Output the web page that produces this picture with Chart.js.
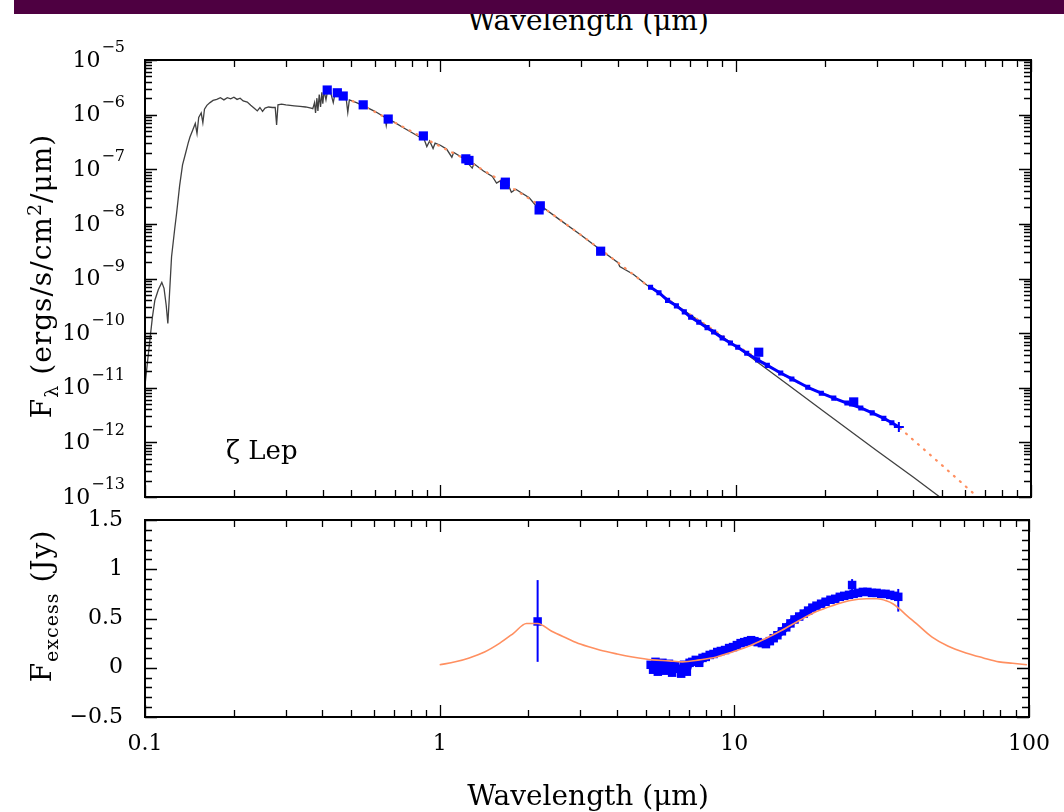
<!DOCTYPE html>
<html><head><meta charset="utf-8">
<script src="https://cdn.jsdelivr.net/npm/chart.js@4.4.0/dist/chart.umd.min.js"></script>
<style>
html,body{margin:0;padding:0;background:#fff;}
#wrap{position:relative;width:1064px;height:812px;overflow:hidden;background:#fff;font-family:"DejaVu Serif",serif;color:#000;}
canvas{position:absolute;left:0;}
#cTop{top:0;}
#cBot{top:484px;}
#band{position:absolute;left:14px;top:0;width:1050px;height:14px;background:#4e0041;z-index:5;}
.t{position:absolute;white-space:nowrap;font-family:"DejaVu Serif",serif;font-size:28px;line-height:28px;color:#000;}
.t sub{font-size:0.68em;vertical-align:-0.35em;line-height:0;}
.t sup{font-size:0.68em;vertical-align:0.55em;line-height:0;}
#topTitle{left:588px;top:7px;transform:translateX(-50%);}
#xTitle{left:588px;top:782px;transform:translateX(-50%);}
#yTop{left:42px;top:276px;transform:translate(-50%,-50%) rotate(-90deg);letter-spacing:1px;}
#yBot{left:42px;top:606px;transform:translate(-50%,-50%) rotate(-90deg);letter-spacing:1px;}
</style>
</head>
<body>
<div id="wrap">
  <div id="band"></div>
  <div class="t" id="topTitle">Wavelength (μm)</div>
  <canvas id="cTop" width="1064" height="510"></canvas>
  <canvas id="cBot" width="1064" height="328"></canvas>
  <div class="t" id="yTop">F<sub>λ</sub> (ergs/s/cm<sup>2</sup>/μm)</div>
  <div class="t" id="yBot">F<sub>excess</sub> (Jy)</div>
  <div class="t" id="xTitle">Wavelength (μm)</div>
</div>
<script>
// ---------------- DATA ----------------
// Photospheric model spectrum (top panel, grey/black line)
const modelWl = [0.100,0.102,0.104,0.106,0.108,0.111,0.114,0.116,0.118,0.1195,0.121,0.123,0.126,0.128,0.131,0.134,0.137,0.140,0.142,0.145,0.148,0.150,0.152,0.155,0.157,0.159,0.162,0.166,0.170,0.175,0.180,0.185,0.190,0.195,0.200,0.205,0.210,0.215,0.222,0.228,0.235,0.240,0.245,0.250,0.255,0.262,0.270,0.276,0.279,0.282,0.290,0.300,0.310,0.320,0.335,0.350,0.365,0.370,0.375,0.378,0.382,0.385,0.389,0.393,0.397,0.400,0.404,0.410,0.415,0.425,0.434,0.440,0.450,0.470,0.480,0.486,0.492,0.520,0.550,0.600,0.650,0.656,0.662,0.700,0.750,0.800,0.850,0.880,0.900,0.920,0.945,0.960,1.000,1.050,1.094,1.110,1.200,1.282,1.300,1.400,1.500,1.550,1.600,1.700,1.740,1.800,2.000,2.166,2.200,2.500,3.000,3.500,4.000,4.050,4.500,5.000,6.000,7.000,8.000,10.00,15.00,20.00,30.00,40.00,50.00,70.00,100.0];
const modelFlux = [1.12e-11,3.0e-11,7.9e-11,2.0e-10,4.0e-10,6.3e-10,8.5e-10,6.6e-10,3.2e-10,1.5e-10,5.0e-10,2.5e-9,7.9e-9,1.6e-8,5.0e-8,1.2e-7,1.9e-7,3.0e-7,3.9e-7,5.2e-7,6.9e-7,4.5e-7,8.9e-7,1.07e-6,7.1e-7,1.26e-6,1.48e-6,1.66e-6,1.82e-6,1.9e-6,2.04e-6,1.86e-6,2.04e-6,1.95e-6,2.09e-6,1.9e-6,2.0e-6,1.78e-6,1.7e-6,1.48e-6,1.29e-6,1.17e-6,1.35e-6,1.15e-6,1.32e-6,1.38e-6,1.35e-6,1.35e-6,6.5e-7,1.51e-6,1.55e-6,1.51e-6,1.48e-6,1.45e-6,1.41e-6,1.38e-6,1.32e-6,1.29e-6,1.66e-6,1.07e-6,2.0e-6,1.17e-6,2.34e-6,1.38e-6,2.57e-6,1.58e-6,2.75e-6,1.86e-6,2.69e-6,2.57e-6,1.66e-6,2.45e-6,2.34e-6,2.09e-6,1.95e-6,1.1e-6,1.86e-6,1.66e-6,1.45e-6,1.15e-6,8.9e-7,6.3e-7,8.5e-7,7.2e-7,5.75e-7,4.7e-7,3.9e-7,3.6e-7,2.6e-7,3.3e-7,2.4e-7,3.0e-7,2.75e-7,2.34e-7,1.66e-7,2.04e-7,1.58e-7,1.05e-7,1.26e-7,9.3e-8,7.4e-8,5.6e-8,6.2e-8,5.1e-8,3.8e-8,4.3e-8,3.0e-8,1.8e-8,2.1e-8,1.26e-8,6.2e-9,3.3e-9,1.95e-9,1.66e-9,1.2e-9,7.6e-10,3.9e-10,2.2e-10,1.35e-10,5.8e-11,1.15e-11,3.6e-12,7.1e-13,2.3e-13,9.3e-14,2.4e-14,5.8e-15];

// Photosphere + dust fit (top panel, orange dotted)
const fitWl = [0.45,0.55,0.7,0.9,1.2,1.6,2.2,3,4,5,6,7,8,9,10,11,12,14,17.5,21.5,26.5,31.8,35.7,40,50,65,80,100];
const fitFlux = [2.3e-6,1.45e-6,7.2e-7,3.5e-7,1.58e-7,6.2e-8,2.1e-8,6.2e-9,1.95e-9,7.6e-10,3.9e-10,2.2e-10,1.37e-10,9.0e-11,6.0e-11,4.4e-11,3.3e-11,1.9e-11,1.02e-11,6.5e-12,4.3e-12,2.75e-12,1.9e-12,1.1e-12,3.8e-13,1.07e-13,4.0e-14,1.4e-14];

// Spitzer IRS spectrum (top panel, blue line)
const irsWl = [5.15,5.5,5.88,6.3,6.7,7.04,7.5,8.0,8.42,9.0,9.6,10.16,10.9,11.87,12.8,14.21,15.5,17.54,19.5,21.49,23.8,26.53,29,31.75,33.8,35.69];
const irsFlux = [6.92e-10,5.5e-10,3.98e-10,3.16e-10,2.45e-10,1.95e-10,1.58e-10,1.26e-10,1.05e-10,8.13e-11,6.61e-11,5.5e-11,4.27e-11,3.24e-11,2.57e-11,1.86e-11,1.45e-11,1.02e-11,7.94e-12,6.46e-12,5.25e-12,4.27e-12,3.47e-12,2.75e-12,2.29e-12,1.91e-12];

// Broadband photometry (top panel, blue squares)
const photWl = [0.414,0.448,0.469,0.548,0.666,0.876,1.22,1.25,1.65,1.66,2.16,2.18,3.49,11.97,25.1];
const photFlux = [2.82e-6,2.51e-6,2.19e-6,1.51e-6,8.3e-7,4.07e-7,1.55e-7,1.45e-7,5.2e-8,5.8e-8,1.8e-8,2.14e-8,3.16e-9,4.47e-11,5.5e-12];

// Excess model (bottom panel, orange line)
const excessModelWl = [1.0,1.13,1.26,1.42,1.6,1.78,1.97,2.15,2.4,2.7,3.0,3.49,4.0,4.51,5.27,6.0,6.66,7.61,8.69,9.84,11.24,12.84,14.5,16.61,19,21.49,24.5,28.03,30.5,32.76,34.5,36.25,38.5,41.4,46.9,53,61.1,70,79.1,88,98.4];
const excessModelJy = [0.03,0.06,0.10,0.16,0.25,0.35,0.45,0.45,0.37,0.30,0.24,0.18,0.14,0.11,0.08,0.07,0.06,0.08,0.11,0.16,0.22,0.30,0.38,0.48,0.57,0.63,0.68,0.70,0.70,0.68,0.65,0.60,0.53,0.45,0.31,0.22,0.15,0.10,0.06,0.045,0.03];

// IRS excess spectrum (bottom panel, blue band)
const excessWl = [5.20,5.30,5.40,5.50,5.60,5.70,5.80,5.90,6.00,6.15,6.30,6.45,6.60,6.75,6.90,7.05,7.20,7.40,7.60,7.80,8.00,8.25,8.50,8.75,9.00,9.30,9.60,9.90,10.2,10.5,10.8,11.1,11.4,11.7,12.0,12.4,12.8,13.2,13.6,14.0,14.5,15.0,15.5,16.0,16.6,17.2,17.8,18.4,19.0,19.7,20.4,21.2,22.0,22.8,23.6,24.5,25.4,26.3,27.3,28.3,29.3,30.4,31.5,32.6,33.8,35.0,36.0];
const excessJy = [0.03,-0.02,0.06,-0.04,0.02,0.05,-0.03,0.00,0.04,-0.05,0.02,-0.01,-0.06,0.03,-0.04,0.05,0.06,0.08,0.05,0.10,0.11,0.13,0.14,0.16,0.17,0.18,0.20,0.21,0.23,0.25,0.26,0.27,0.28,0.27,0.26,0.25,0.24,0.27,0.30,0.33,0.37,0.41,0.45,0.49,0.52,0.55,0.58,0.61,0.63,0.65,0.67,0.69,0.70,0.72,0.73,0.74,0.75,0.76,0.77,0.77,0.76,0.76,0.75,0.75,0.74,0.73,0.72];

// Excess photometry with error bars (bottom panel)
const excessPhotWl = [2.15,25.1,11.97];
const excessPhotJy = [0.47,0.84,1.7];
const errWl = [2.15,25.1,11.97,36.0];
const errLo = [0.06,0.78,1.49,0.57];
const errHi = [0.89,0.90,1.9,0.80];

// Axis ticks
const xTickValues = [0.1,1,10,100];
const xTickLabels = ['0.1','1','10','100'];
const yTopExponents = [-13,-12,-11,-10,-9,-8,-7,-6,-5];
const yBotTicks = [-0.5,0,0.5,1,1.5];
const yBotLabels = ['\u22120.5','0','0.5','1','1.5'];
const starLabel = '\u03B6 Lep';
const starLabelPos = {x:0.188, y:6.6e-13};

// ---------------- HELPERS ----------------
const pts = (xs, ys) => xs.map((v,i)=>({x:v,y:ys[i]}));
const FONT = '"DejaVu Serif", serif';
const BLUE = '#0000ff';
const ORANGE = '#ff8f60';

function drawFrame(chart, yKind) {
  const {ctx, chartArea:a, scales:{x, y}} = chart;
  ctx.save();
  ctx.strokeStyle = '#000';
  ctx.lineWidth = 1.3;
  ctx.beginPath();
  for (const d of [0.1,1,10,100]) {
    for (let m=1; m<=9; m++) {
      const v = d*m;
      if (v > 100.0001) break;
      const px = Math.round(x.getPixelForValue(v)) + 0.5;
      const L = m===1 ? 12 : 7;
      ctx.moveTo(px, a.bottom); ctx.lineTo(px, a.bottom - L);
      ctx.moveTo(px, a.top); ctx.lineTo(px, a.top + L);
    }
  }
  const yt = [];
  if (yKind === 'log') {
    for (let e=-13; e<=-5; e++) for (let m=1; m<=9; m++) {
      if (e === -5 && m > 1) break;
      yt.push({v: m*Math.pow(10,e), major: m===1});
    }
  } else {
    for (let k=-5; k<=15; k++) yt.push({v: k/10, major: k%5===0});
  }
  for (const t of yt) {
    const py = Math.round(y.getPixelForValue(t.v)) + 0.5;
    const L = t.major ? 12 : 7;
    ctx.moveTo(a.left, py); ctx.lineTo(a.left + L, py);
    ctx.moveTo(a.right, py); ctx.lineTo(a.right - L, py);
  }
  ctx.stroke();
  ctx.lineWidth = 2;
  ctx.strokeRect(a.left, a.top, a.right - a.left, a.bottom - a.top);
  ctx.restore();
}

const topPlugin = {
  id: 'topDecor',
  afterDraw(chart) {
    drawFrame(chart, 'log');
    const {ctx, scales:{x, y}} = chart;
    ctx.save();
    ctx.fillStyle = '#000';
    const right = 125;
    for (const e of yTopExponents) {
      const py = y.getPixelForValue(Math.pow(10, e));
      const expStr = '\u2212' + Math.abs(e);
      ctx.font = '16px ' + FONT;
      const wE = ctx.measureText(expStr).width;
      ctx.textAlign = 'right';
      ctx.textBaseline = 'middle';
      ctx.fillText(expStr, right, py - 12);
      ctx.font = '22px ' + FONT;
      ctx.fillText('10', right - wE - 1, py + 1);
    }
    ctx.font = '26px ' + FONT;
    ctx.textAlign = 'left';
    ctx.textBaseline = 'middle';
    ctx.fillText(starLabel, x.getPixelForValue(starLabelPos.x), y.getPixelForValue(starLabelPos.y));
    ctx.restore();
  }
};
const botPlugin = { id:'botDecor', afterDraw(chart){ drawFrame(chart, 'lin'); } };

const common = {
  responsive:false, animation:false, events:[],
  plugins:{legend:{display:false}, tooltip:{enabled:false}},
  elements:{line:{tension:0}, point:{hoverRadius:0}}
};

// ---------------- TOP CHART ----------------
new Chart(document.getElementById('cTop'), {
  type:'scatter',
  data:{datasets:[
    {label:'Photometry', data:pts(photWl, photFlux), showLine:false, pointStyle:'rect',
     pointRadius:6.5, backgroundColor:BLUE, borderColor:BLUE, borderWidth:0},
    {label:'IRS', data:pts(irsWl, irsFlux), showLine:true, borderColor:BLUE, borderWidth:3,
     backgroundColor:BLUE, pointBorderColor:BLUE, borderJoinStyle:'round',
     pointStyle:c => c.dataIndex === irsWl.length-1 ? 'cross' : 'rect',
     pointRadius:c => c.dataIndex === irsWl.length-1 ? 5 : 2.2, pointBorderWidth:2},
    {label:'Photosphere + dust', data:pts(fitWl, fitFlux), showLine:true, borderColor:ORANGE,
     borderWidth:2.2, borderDash:[1,7], borderCapStyle:'round', pointRadius:0},
    {label:'Photosphere', data:pts(modelWl, modelFlux), showLine:true, borderColor:'#404040',
     borderWidth:1.3, pointRadius:0}
  ]},
  options:Object.assign({}, common, {
    layout:{padding:{top:60, right:33, bottom:13, left:0}},
    scales:{
      x:{type:'logarithmic', min:0.1, max:100, afterFit:s=>{s.height=0;},
         ticks:{display:false}, grid:{display:false, drawTicks:false}, border:{display:false}},
      y:{type:'logarithmic', min:1e-13, max:1e-5, afterFit:s=>{s.width=145;},
         ticks:{display:false}, grid:{display:false, drawTicks:false}, border:{display:false}}
    }
  }),
  plugins:[topPlugin]
});

// ---------------- BOTTOM CHART ----------------
const errSets = errWl.map((w,i)=>({
  label:'err'+i, data:[{x:w,y:errLo[i]},{x:w,y:errHi[i]}], showLine:true,
  borderColor:BLUE, borderWidth:2, pointRadius:0
}));
new Chart(document.getElementById('cBot'), {
  type:'scatter',
  data:{datasets:[
    {label:'Excess model', data:pts(excessModelWl, excessModelJy), showLine:true,
     borderColor:ORANGE, borderWidth:1.6, pointRadius:0, cubicInterpolationMode:'monotone'},
    ...errSets,
    {label:'Excess photometry', data:pts(excessPhotWl, excessPhotJy), showLine:false,
     pointStyle:'rect', pointRadius:6, backgroundColor:BLUE, borderWidth:0},
    {label:'IRS excess', data:pts(excessWl, excessJy), showLine:true, borderColor:BLUE,
     borderWidth:7, borderJoinStyle:'round', pointStyle:'rect', pointRadius:6,
     backgroundColor:BLUE, pointBorderWidth:0}
  ]},
  options:Object.assign({}, common, {
    layout:{padding:{top:36, right:33, bottom:0, left:0}},
    scales:{
      x:{type:'logarithmic', min:0.1, max:100, afterFit:s=>{s.height=95;},
         afterBuildTicks:s=>{s.ticks = xTickValues.map(v=>({value:v}));},
         ticks:{autoSkip:false, maxRotation:0, padding:14, color:'#000',
                font:{family:FONT, size:22}, callback:(v,i)=>xTickLabels[i]},
         grid:{display:false, drawTicks:false}, border:{display:false}},
      y:{type:'linear', min:-0.5, max:1.5, afterFit:s=>{s.width=145;},
         afterBuildTicks:s=>{s.ticks = yBotTicks.map(v=>({value:v}));},
         ticks:{autoSkip:false, padding:22, color:'#000',
                font:{family:FONT, size:22}, callback:(v,i)=>yBotLabels[i]},
         grid:{display:false, drawTicks:false}, border:{display:false}}
    }
  }),
  plugins:[botPlugin]
});
</script>
</body></html>
